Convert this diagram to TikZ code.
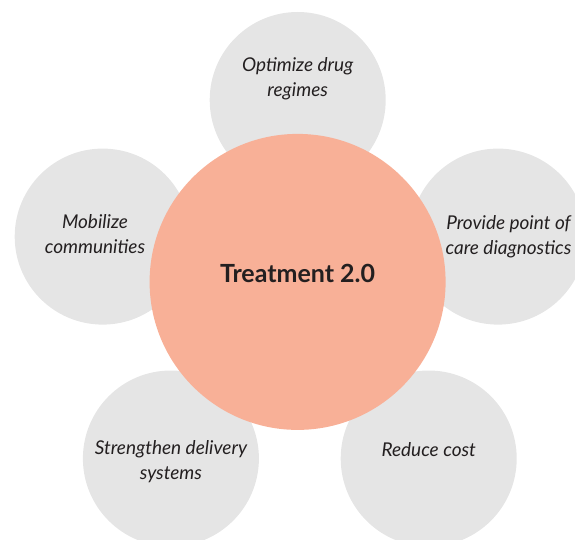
\documentclass[tikz,border=0pt]{standalone}
\usepackage{fontspec}
\setmainfont{Lato}
\usepackage{tikz}
\usetikzlibrary{positioning}
\definecolor{petal}{HTML}{E5E5E5}
\definecolor{salmon}{HTML}{F8B097}
\definecolor{ink}{HTML}{231F20}
\tikzset{
	% grey circles around the middle
	petalnode/.style={
		circle,
		fill=petal,
		inner sep=0pt,
		minimum size=176pt},
	% big circle in the middle
	hubnode/.style={
		circle,
		fill=salmon,
		inner sep=0pt,
		minimum size=296pt},
	% italic captions on the grey circles
	petallabel/.style={
		text=ink,
		align=center,
		inner sep=0pt,
		font=\itshape\fontsize{19}{25}\selectfont},
	hublabel/.style={
		text=ink,
		inner sep=0pt,
		font=\bfseries\fontsize{25}{28}\selectfont}
}

\begin{document}
\begin{tikzpicture}[x=1pt,y=1pt]
		\clip (0,0) rectangle (575,539);
		% grey circles
		\node[petalnode] (drug) at (297.7,439) {};
		\node[petalnode] (comm) at (102.7,302.4) {};
		\node[petalnode] (diag) at (498,302.4) {};
		\node[petalnode] (deliv) at (170.9,80.5) {};
		\node[petalnode] (cost) at (428.7,80.5) {};
		% node Treatment
		\node[hubnode] (hub) at (297.6,257.1) {};
		% captions
		\node[petallabel, yshift=21.5] (drug-t) at (drug) {Optimize drug\\regimes};
		\node[petallabel, xshift=-7.7, yshift=3] (comm-t) at (comm) {Mobilize\\communities};
		\node[petallabel, xshift=10.5] (diag-t) at (diag) {Provide point of\\care diagnostics};
		\node[petallabel, yshift=-3] (deliv-t) at (deliv) {Strengthen delivery\\systems};
		\node[petallabel, yshift=8.5] (cost-t) at (cost) {Reduce cost};
		\node[hublabel, yshift=8] (hub-t) at (hub) {Treatment 2.0};
	\end{tikzpicture}
\end{document}
